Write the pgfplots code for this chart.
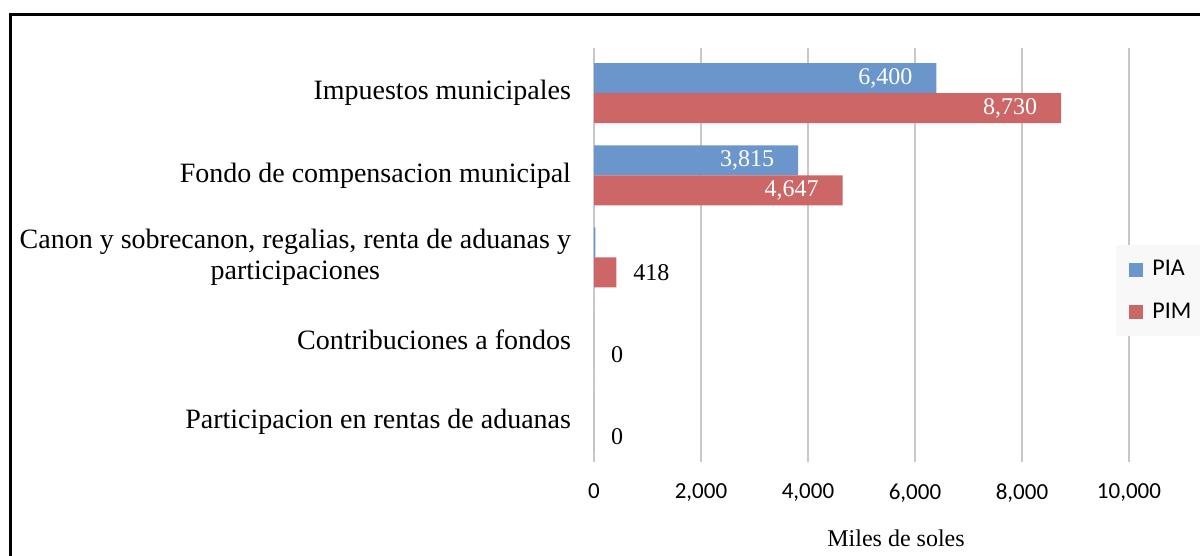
\documentclass[border=0pt]{standalone}
\usepackage{fontspec}
\setmainfont{Liberation Serif}
\newfontfamily\calibri{Carlito}
\usepackage{pgfplots}
\pgfplotsset{compat=1.18}
\definecolor{piablue}{RGB}{106,150,204}
\definecolor{pimred}{RGB}{205,102,102}
\definecolor{gridgray}{RGB}{200,200,200}
\definecolor{legbg}{RGB}{248,248,248}
\begin{document}
\begin{tikzpicture}
\path[use as bounding box] (0,0) rectangle (600bp,278bp);
\draw[line width=1.2bp] (5.25bp,-5bp) -- (5.25bp,270.75bp) -- (610bp,270.75bp);
\begin{axis}[
  at={(297bp,47bp)}, anchor=south west,
  scale only axis, width=267.5bp, height=207bp,
  xmin=0, xmax=10000, ymin=-0.49, ymax=4.55,
  xbar, bar width=15bp,
  xtick={0,2000,4000,6000,8000,10000},
  scaled x ticks=false,
  ytick={0,1,2,3,4},
  yticklabels={Participacion en rentas de aduanas, Contribuciones a fondos, {Canon y sobrecanon, regalias, renta de aduanas y\\participaciones}, Fondo de compensacion municipal, Impuestos municipales},
  xmajorgrids, grid style={gridgray, line width=0.75bp},
  axis line style={draw=none},
  major tick length=0pt,
  /pgf/number format/1000 sep={,},
  /pgf/number format/fixed,
  /pgf/number format/assume math mode=true,
  xticklabel style={font=\calibri\fontsize{11.5bp}{13bp}\selectfont, yshift=-7.5bp},
  yticklabel style={font=\fontsize{14bp}{15.5bp}\selectfont, align=center, anchor=east, xshift=-8bp},
  xlabel={Miles de soles},
  xlabel style={at={(axis description cs:0.5645,0)}, anchor=center, yshift=-38bp, font=\fontsize{12bp}{14bp}\selectfont},
  legend style={at={(0.9757,0.524)}, anchor=north west, fill=legbg, draw=none,
    font=\calibri\fontsize{12bp}{14bp}\selectfont, row sep=8bp, inner xsep=6.5bp, inner ysep=5.5bp},
  legend cell align=left,
  legend image code/.code={\fill[#1] (0bp,-3.5bp) rectangle (7bp,3.5bp);},
  legend style={nodes={inner xsep=4.5bp}},
]
\addplot[fill=piablue, draw=none, bar shift=7.5bp, point meta=x, nodes near coords,
  nodes near coords style={anchor=east, xshift=-8.5bp, text=white, font=\fontsize{12bp}{14bp}\selectfont}]
  coordinates {(6400,4) (3815,3)};
\addlegendentry{PIA}
\addplot[fill=pimred, draw=none, bar shift=-7.5bp, point meta=x, nodes near coords,
  nodes near coords style={anchor=east, xshift=-8.5bp, text=white, font=\fontsize{12bp}{14bp}\selectfont}]
  coordinates {(8730,4) (4647,3)};
\addlegendentry{PIM}
\addplot[forget plot, fill=piablue, draw=none, bar shift=7.5bp]
  coordinates {(25,2) (0,1) (0,0)};
\addplot[forget plot, fill=pimred, draw=none, bar shift=-7.5bp, point meta=x, nodes near coords,
  nodes near coords style={anchor=west, xshift=5bp, text=black, font=\fontsize{12bp}{14bp}\selectfont}]
  coordinates {(418,2) (0,1) (0,0)};
\end{axis}
\end{tikzpicture}
\end{document}
